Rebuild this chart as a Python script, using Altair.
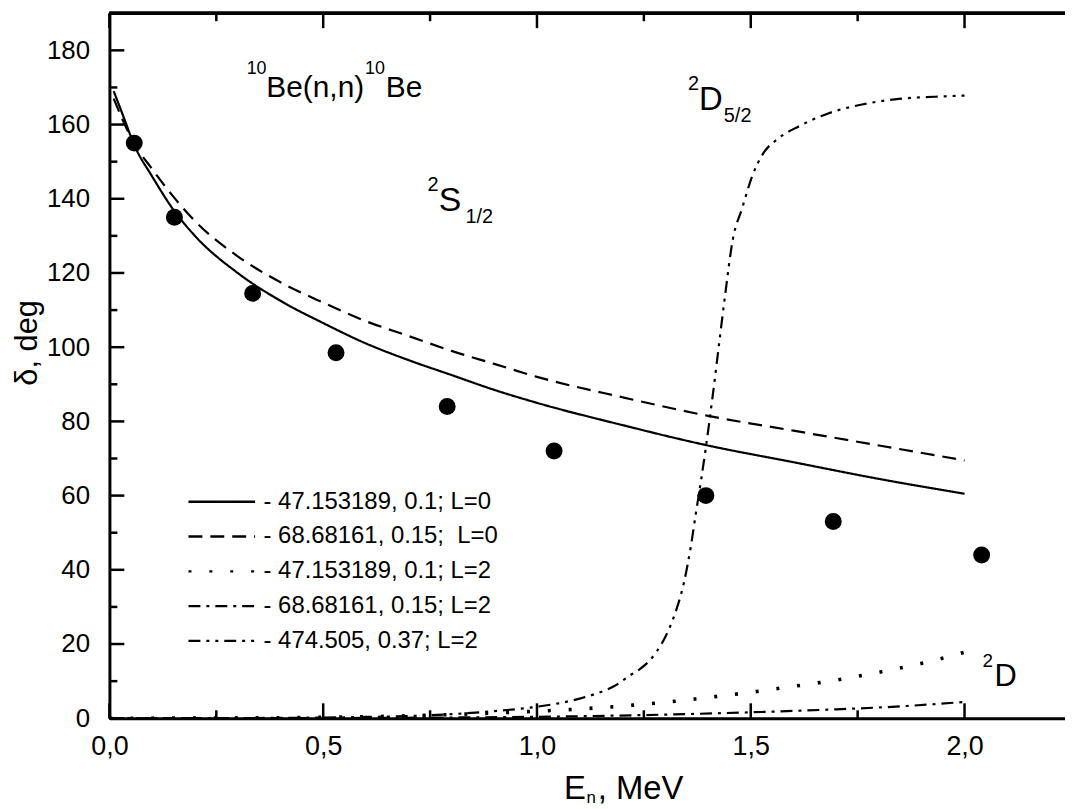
import altair as alt
import pandas as pd

# ---------------- data ----------------
# experimental phase shifts (filled circles)
exp_E = [0.058, 0.152, 0.335, 0.53, 0.79, 1.04, 1.395, 1.693, 2.04]
exp_delta = [155, 135, 114.5, 98.5, 84, 72, 60, 53, 44]

series_names = [
    "- 47.153189, 0.1; L=0",
    "- 68.68161, 0.15;\u00a0 L=0",
    "- 47.153189, 0.1; L=2",
    "- 68.68161, 0.15; L=2",
    "- 474.505, 0.37; L=2",
]
series_width = [2.2, 2.2, 3.6, 2.2, 2.2]

s1_E = [0.01, 0.03, 0.06, 0.1, 0.15, 0.2, 0.3, 0.4, 0.5, 0.6, 0.7, 0.8, 0.9, 1.0, 1.2, 1.4, 1.6, 1.8, 2.0]
s1_d = [169, 163, 154, 146, 137, 130, 120, 112.5, 106.5, 101, 96.5, 92.5, 88.5, 85, 79, 73.5, 69, 64.5, 60.5]

s2_E = [0.01, 0.03, 0.06, 0.1, 0.15, 0.2, 0.3, 0.4, 0.5, 0.6, 0.7, 0.8, 0.9, 1.0, 1.2, 1.4, 1.6, 1.8, 2.0]
s2_d = [167, 161.5, 154.5, 148, 140.5, 134, 124.5, 117.5, 112, 107, 103, 99, 95.5, 92, 86.5, 81.5, 77.5, 73.5, 69.5]

s3_E = [0.0, 0.2, 0.4, 0.6, 0.8, 0.9, 1.0, 1.1, 1.2, 1.3, 1.4, 1.5, 1.6, 1.7, 1.8, 1.9, 2.0]
s3_d = [0, 0.05, 0.15, 0.4, 1.0, 1.4, 1.9, 2.5, 3.3, 4.3, 5.6, 7.0, 8.6, 10.3, 12.4, 14.8, 17.8]

s4_E = [0.0, 0.5, 0.8, 1.0, 1.25, 1.5, 1.7, 1.85, 2.0]
s4_d = [0, 0.05, 0.2, 0.4, 0.85, 1.6, 2.4, 3.2, 4.4]

s5_E = [0.0, 0.2, 0.4, 0.6, 0.7, 0.8, 0.9, 1.0, 1.05, 1.1, 1.14, 1.18, 1.217, 1.24, 1.263, 1.28,
        1.298, 1.321, 1.344, 1.36, 1.372, 1.384, 1.395, 1.41, 1.425, 1.44, 1.458, 1.48, 1.505,
        1.528, 1.565, 1.612, 1.681, 1.76, 1.837, 1.953, 2.0]
s5_d = [0, 0.02, 0.1, 0.35, 0.6, 1.1, 1.9, 3.1, 4.0, 5.3, 6.7, 8.6, 11.5, 13.2, 15.5, 18,
        21.4, 27.6, 36.7, 46.4, 55.5, 64.3, 73, 86, 100, 114, 129, 137.5, 146.6,
        152, 156.3, 159.5, 163, 165.4, 166.8, 167.6, 167.8]

x_major = [0.0, 0.5, 1.0, 1.5, 2.0]
x_minor = [0.25, 0.75, 1.25, 1.75]
y_major = [0, 20, 40, 60, 80, 100, 120, 140, 160, 180]
y_minor = [10, 30, 50, 70, 90, 110, 130, 150, 170, 190]

# annotation texts (pieces for super/subscripts)
ann_text = ["10", "Be(n,n)", "10", "Be",
            "2", "S", "1/2",
            "2", "D", "5/2",
            "2", "D",
            "E", "n", ", MeV"]
ann_x = [0.321, 0.367, 0.598, 0.6465,
         0.744, 0.770, 0.8326,
         1.3535, 1.379, 1.437,
         2.042, 2.070,
         1.063, 1.116, 1.142]
ann_y = [173.7, 167.5, 173.7, 167.5,
         142.0, 136.7, 133.5,
         169.4, 164.0, 160.8,
         13.9, 8.6,
         -21.7, -22.8, -21.7]
ann_size = [18, 30, 18, 30,
            20, 34, 20,
            20, 33, 20,
            19, 31,
            33, 17, 33]

# ---------------- build tables ----------------
rows = []
for name, sw, xs, ys in zip(series_names, series_width,
                            [s1_E, s2_E, s3_E, s4_E, s5_E], [s1_d, s2_d, s3_d, s4_d, s5_d]):
    for i, (a, b) in enumerate(zip(xs, ys)):
        rows.append({"series": name, "E": a, "delta": b, "i": i, "sw": sw})
df_lines = pd.DataFrame(rows)
df_exp = pd.DataFrame({"E": exp_E, "delta": exp_delta})
df_ann = pd.DataFrame({"x": ann_x, "y": ann_y, "t": ann_text, "fs": ann_size})

W, H = 961, 709
FONT = "Liberation Sans"
xscale = alt.Scale(domain=[0, 2.235], nice=False, zero=False)
yscale = alt.Scale(domain=[0, 190], nice=False, zero=False)

dashes = [[1, 0], [14, 8], [3, 18], [12, 6, 3, 6], [12, 6, 3, 6, 3, 6]]

xaxis = alt.Axis(values=x_major, labelExpr="replace(format(datum.value, '.1f'), '.', ',')",
                 ticks=False, tickSize=0, labelPadding=15, labelFontSize=27, labelFont=FONT,
                 labelColor="black", domainWidth=3, domainColor="black", grid=False, title=None,
                 labelFlush=False, labelOverlap=False)
yaxis = alt.Axis(values=y_major, ticks=False, tickSize=0, labelPadding=20, labelFontSize=26,
                 labelFont=FONT, labelColor="black", domainWidth=3, domainColor="black", grid=False,
                 title="δ, deg", titleFont=FONT, titleFontSize=31, titleFontWeight="normal",
                 titleColor="black", titleX=-73, titleY=331, titleAngle=270,
                 titleBaseline="alphabetic", titleAlign="center", labelFlush=False, labelOverlap=False)

def X(field):
    return alt.X(field, scale=xscale, axis=xaxis)

def Y(field):
    return alt.Y(field, scale=yscale, axis=yaxis)

lines = alt.Chart(df_lines).mark_line(color="black", interpolate="monotone").encode(
    x=X("E:Q"),
    y=Y("delta:Q"),
    strokeDash=alt.StrokeDash(
        "series:N", sort=series_names,
        scale=alt.Scale(domain=series_names, range=dashes),
        legend=alt.Legend(title=None, orient="none", legendX=78, legendY=474,
                          symbolType="stroke", symbolSize=4489, symbolStrokeWidth=2.4,
                          symbolStrokeColor="black", labelFont=FONT, labelFontSize=24,
                          labelColor="black", labelOffset=7, clipHeight=34.5, rowPadding=0,
                          padding=0, labelLimit=500),
    ),
    strokeWidth=alt.StrokeWidth("sw:Q", scale=None, legend=None),
    order="i:Q",
)

points = alt.Chart(df_exp).mark_circle(size=290, color="black", opacity=1).encode(
    x=X("E:Q"),
    y=Y("delta:Q"),
)

ann = alt.Chart(df_ann).mark_text(align="left", baseline="alphabetic", font=FONT, color="black").encode(
    x=X("x:Q"),
    y=Y("y:Q"),
    text="t:N",
    size=alt.Size("fs:Q", scale=None, legend=None),
)

tick_style = dict(color="black", strokeWidth=2.5)
xmaj = pd.DataFrame({"v": x_major})
xmin = pd.DataFrame({"v": x_minor})
ymaj = pd.DataFrame({"v": y_major})
ymin = pd.DataFrame({"v": y_minor})

def xticks(df, y0, y1):
    return alt.Chart(df).mark_rule(**tick_style).encode(
        x=X("v:Q"), y=alt.value(y0), y2=alt.value(y1))

def yticks(df, length):
    return alt.Chart(df).mark_rule(**tick_style).encode(
        y=Y("v:Q"), x=alt.value(0), x2=alt.value(length))

top_frame = alt.Chart(xmaj).mark_rule(color="black", strokeWidth=3).encode(
    x=alt.value(0), x2=alt.value(W), y=alt.value(0))

chart = alt.layer(
    lines, points, ann,
    xticks(xmaj, H, H - 15), xticks(xmin, H, H - 8),
    xticks(xmaj, 0, 15), xticks(xmin, 0, 8),
    yticks(ymaj, 15), yticks(ymin, 8),
    top_frame,
).properties(
    width=W, height=H,
    autosize=alt.AutoSizeParams(type="none"),
    padding={"left": 102, "top": 3, "right": 0, "bottom": 88},
).configure_view(stroke=None).configure(background="white")

chart.save("out.html", embed_options={"renderer": "svg", "actions": False})
